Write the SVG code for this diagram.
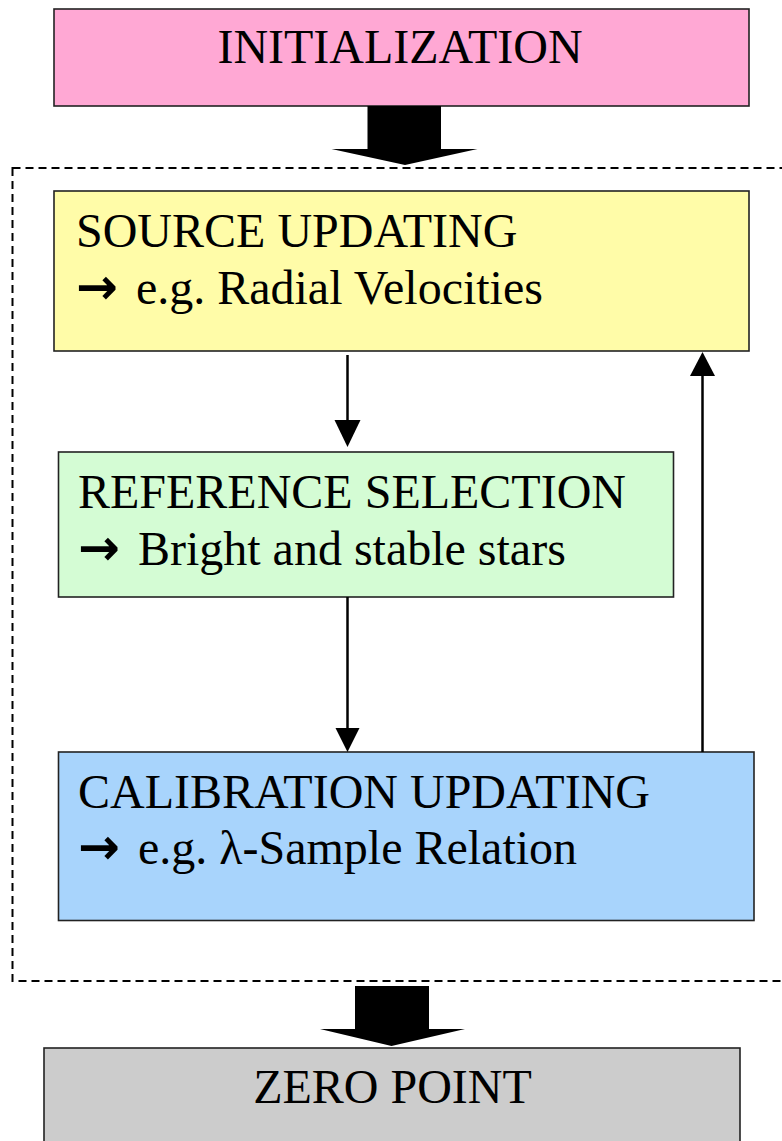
<svg xmlns="http://www.w3.org/2000/svg" width="782" height="1141" viewBox="0 0 782 1141">
<style>
.box{stroke:#222;stroke-width:1.6}
.t{font-family:"Liberation Serif","Times New Roman",serif;font-size:48px;fill:#000}
.c{text-anchor:middle}
.ar{font-family:"DejaVu Sans",sans-serif;font-weight:bold;font-size:50px}
.ln{stroke:#000;stroke-width:2.5;fill:none}
.blk{fill:#000}
</style>
<rect x="0" y="0" width="782" height="1141" fill="#fff"/>
<g id="loop-frame">
<rect x="12.5" y="168" width="790" height="813" fill="none" stroke="#000" stroke-width="2" stroke-dasharray="8,5"/>
</g>
<g id="initialization">
<rect class="box" x="54" y="9" width="695" height="97" fill="#FFA8D4"/>
<text class="t c" x="400" y="63">INITIALIZATION</text>
</g>
<g id="source-updating">
<rect class="box" x="54" y="191" width="695" height="160" fill="#FFFCA8"/>
<text class="t" x="76" y="247">SOURCE UPDATING</text>
<text class="t" x="76" y="303.5"><tspan class="ar">→</tspan><tspan dx="6"> e.g. Radial Velocities</tspan></text>
</g>
<g id="reference-selection">
<rect class="box" x="58.5" y="452" width="615" height="145" fill="#D4FCD4"/>
<text class="t" x="78" y="508">REFERENCE SELECTION</text>
<text class="t" x="78" y="565"><tspan class="ar">→</tspan><tspan dx="6"> Bright and stable stars</tspan></text>
</g>
<g id="calibration-updating">
<rect class="box" x="58.5" y="752" width="695.5" height="168.5" fill="#A8D4FC"/>
<text class="t" x="78" y="808">CALIBRATION UPDATING</text>
<text class="t" x="78" y="864"><tspan class="ar">→</tspan><tspan dx="6"> e.g. λ-Sample Relation</tspan></text>
</g>
<g id="zero-point">
<rect class="box" x="44" y="1048" width="696" height="110" fill="#CCCCCC"/>
<text class="t c" x="392.5" y="1103">ZERO POINT</text>
</g>
<g id="connectors">
<path class="blk" d="M367.5,106 H441 V149 H477.5 L405,165 L331.5,149 H367.5 Z"/>
<path class="blk" d="M355,986 H429 V1029 H465 L391.5,1046 L320,1029 H355 Z"/>
<g fill="#000">
<line class="ln" x1="347.5" y1="355" x2="347.5" y2="422"/>
<path d="M334.5,420 L360.5,420 L347.5,447 Z"/>
<line class="ln" x1="347.5" y1="597" x2="347.5" y2="730"/>
<path d="M335.5,728 L359.5,728 L347.5,752 Z"/>
<line class="ln" x1="702.5" y1="752" x2="702.5" y2="374"/>
<path d="M690,376 L715,376 L702.5,352 Z"/>
</g>
</g>
</svg>
